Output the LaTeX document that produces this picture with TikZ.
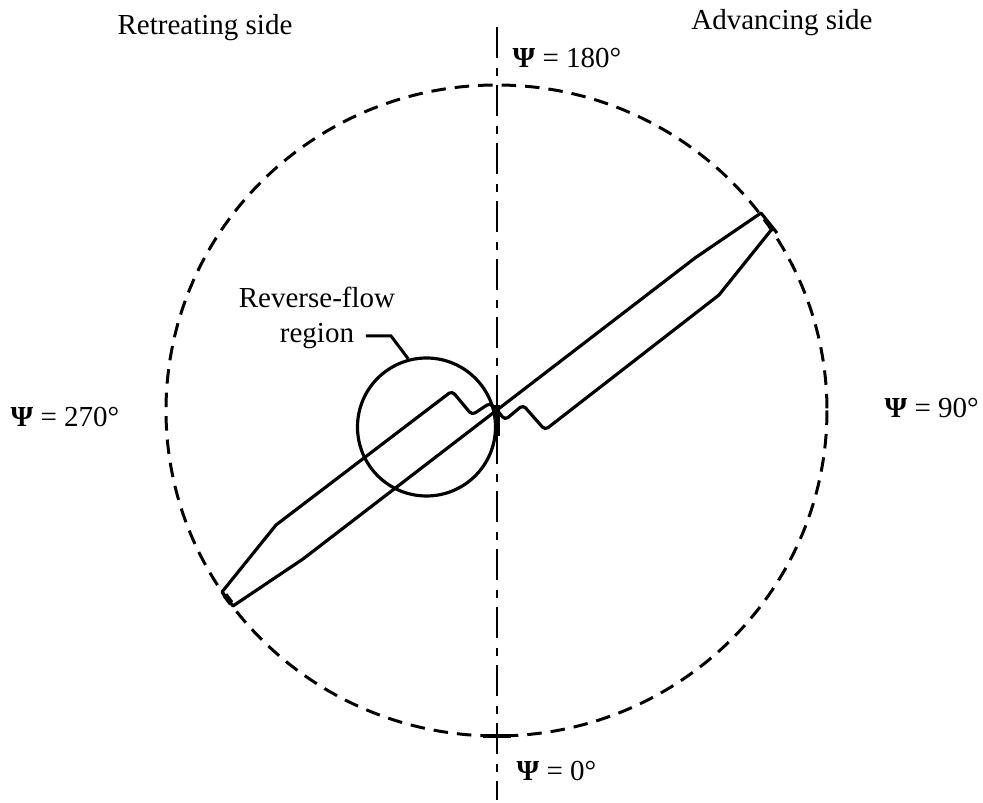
\documentclass[tikz,border=0pt]{standalone}
\usepackage{fontspec}
\setmainfont{Liberation Serif}
\usetikzlibrary{positioning}
\newcommand{\psiang}[1]{\textbf{Ψ} = #1°}
\tikzset{
    lbl/.style={align=center, inner sep=0, font=\fontsize{8.25}{9.4}\selectfont},
    rim/.style={line width=0.85pt, dash pattern=on 0.145cm off 0.09cm},
    axisline/.style={line width=0.85pt, dash pattern=on 0.31cm off 0.10cm on 0.08cm off 0.09cm},
    blade/.style={line width=0.9pt, line join=round},
    zone/.style={circle, draw, line width=0.9pt, minimum size=1.38cm, inner sep=0},
}

\begin{document}
\begin{tikzpicture}[y=-1cm]
    \useasboundingbox (0,0) rectangle (9.83,8.03);
    % rotor disc and azimuth axis
    \coordinate (disc) at (4.965,4.105);
    \draw[rim] (disc) ellipse [x radius=3.305, y radius=3.255];
    \coordinate (axtop) at (4.97,0.27);
    \coordinate (axbot) at (4.97,8.00);
    \draw[axisline] (axtop) -- (axbot);
    \coordinate (hubtop) at (4.97,3.75);
    \coordinate (hubmid) at (4.97,4.05);
    \coordinate (hubbot) at (4.97,4.36);
    \draw[line width=0.85pt] (hubtop) -- (hubmid);
    \draw[line width=1.5pt] (hubmid) -- (hubbot);
    \coordinate (tickl) at (4.83,7.36);
    \coordinate (tickr) at (5.11,7.36);
    \draw[line width=1.1pt] (tickl) -- (tickr);

    % advancing blade
    \coordinate (hub) at (4.97,4.10);
    \coordinate (a1) at (7.61,2.13);
    \coordinate (a2) at (7.77,2.33);
    \draw[blade] (hub) -- (6.95,2.58) -- (a1) -- (a2);
    \draw[blade] (hub) [rounded corners=1.1pt] -- (5.05,4.20) -- (5.23,4.05) -- (5.45,4.30) [sharp corners] -- (7.19,2.95) -- (7.72,2.29);
    % retreating blade
    \coordinate (r1) at (2.22,5.92);
    \coordinate (r2) at (2.33,6.06);
    \draw[blade] (hub) [rounded corners=1.1pt] -- (4.90,4.03) -- (4.72,4.15) -- (4.52,3.91) [sharp corners] -- (2.76,5.25) -- (r1) -- (r2) -- (3.03,5.59) -- (hub);
    \draw[line width=1.6pt] (2.25,5.95) -- (2.31,6.03);

    % reverse-flow circle and its leader
    \node[zone] (rev) at (4.265,4.27) {};
    \node[lbl] (revlbl) at (3.17,3.18) {Reverse-flow\\[0.02cm]region};
    \coordinate (lead) at (3.66,3.36);
    \coordinate (bend) at (3.91,3.36);
    \draw[line width=0.85pt] (lead) -- (bend) -- (rev.105);

    \node[lbl] (retr) at (2.05,0.28) {Retreating side};
    \node[lbl] (adv) at (7.82,0.23) {Advancing side};
    \node[lbl, anchor=west] (p180) at (5.12,0.58) {\psiang{180}};
    \node[lbl, anchor=west] (p270) at (0.10,4.17) {\psiang{270}};
    \node[lbl, anchor=west] (p90) at (8.84,4.08) {\psiang{90}};
    \node[lbl, anchor=west] (p0) at (5.16,7.71) {\psiang{0}};
\end{tikzpicture}
\end{document}
